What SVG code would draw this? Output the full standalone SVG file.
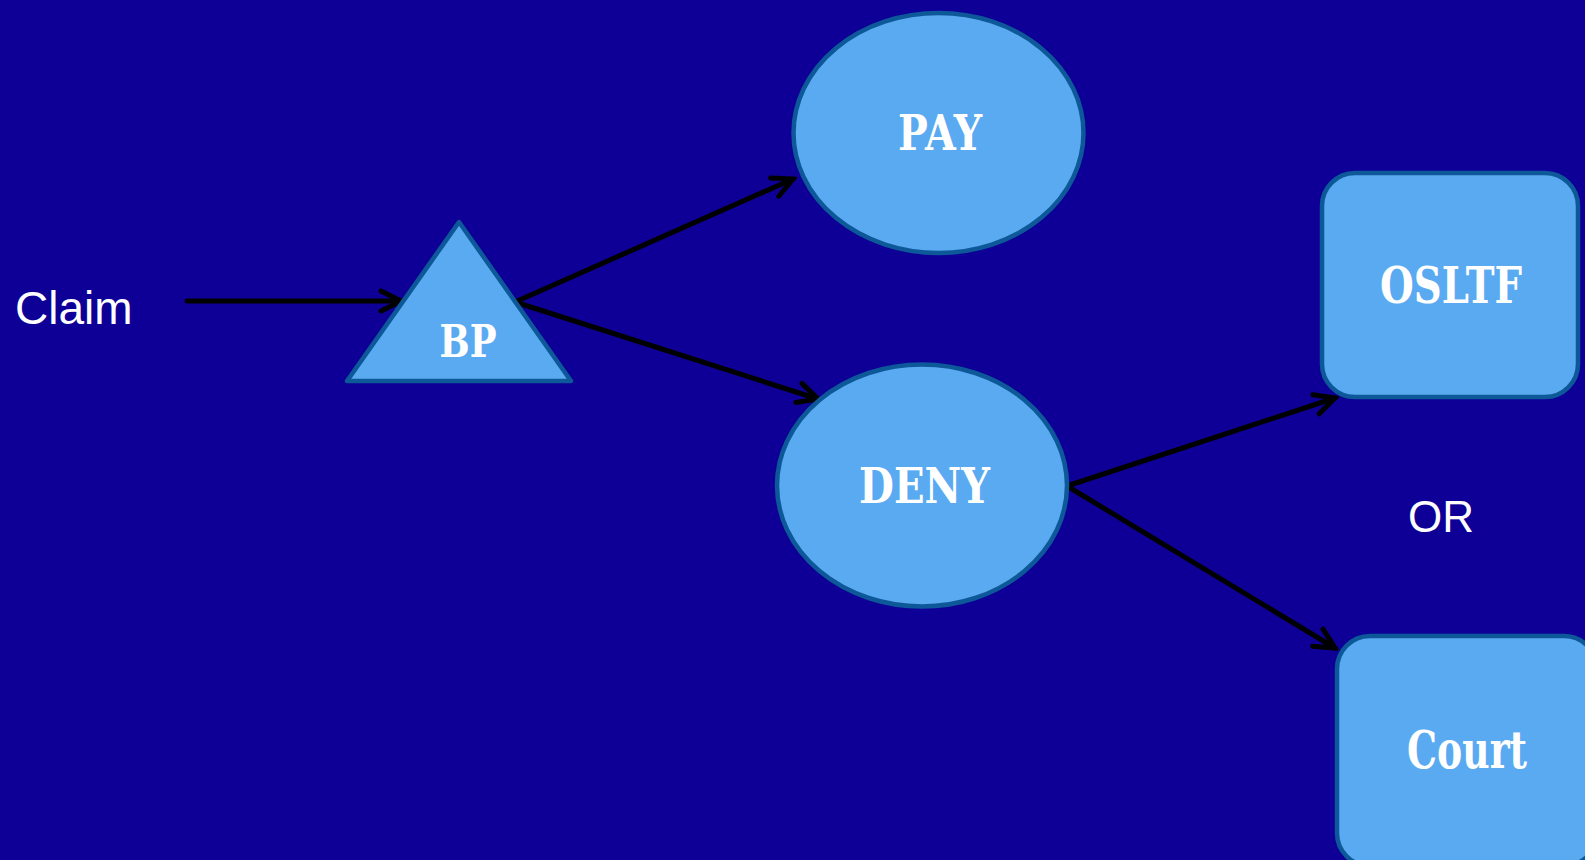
<svg xmlns="http://www.w3.org/2000/svg" width="1585" height="860" viewBox="0 0 1585 860">
  <defs>
    <style>
      .shape { fill: #5aaaf2; stroke: #0d5898; stroke-width: 4.5; }
      .lbl { font-family: "DejaVu Serif", "Liberation Serif", serif; font-weight: bold; fill: #ffffff; text-anchor: middle; }
      .plain { font-family: "Liberation Sans", Arial, sans-serif; fill: #ffffff; }
      .conn { fill: none; stroke: #000000; stroke-width: 5; stroke-linecap: round; marker-end: url(#arrow); }
    </style>
    <marker id="arrow" markerUnits="userSpaceOnUse" viewBox="-24 -13 28 26" refX="0" refY="0" markerWidth="28" markerHeight="26" orient="auto">
      <path d="M-20,-10 L0,0 L-20,10" fill="none" stroke="#000000" stroke-width="5" stroke-linecap="round" stroke-linejoin="miter"/>
    </marker>
  </defs>
  <rect x="0" y="0" width="1585" height="860" fill="#0e0096"/>

  <g id="connectors">
    <line class="conn" x1="187" y1="301" x2="401" y2="301"/>
    <line class="conn" x1="515" y1="302" x2="793" y2="179"/>
    <line class="conn" x1="515" y1="302" x2="818" y2="399"/>
    <line class="conn" x1="1067" y1="486" x2="1335" y2="398"/>
    <line class="conn" x1="1067" y1="486" x2="1335" y2="648"/>
  </g>

  <g id="claim">
    <text class="plain" x="15" y="324" font-size="46">Claim</text>
  </g>

  <g id="bp">
    <polygon class="shape" points="459,222 347,381 571,381" stroke-linejoin="round"/>
    <text class="lbl" x="468" y="357" font-size="45" textLength="57" lengthAdjust="spacingAndGlyphs">BP</text>
  </g>

  <g id="pay">
    <ellipse class="shape" cx="938.5" cy="133" rx="145" ry="120"/>
    <text class="lbl" x="940" y="150" font-size="48" textLength="84" lengthAdjust="spacingAndGlyphs">PAY</text>
  </g>

  <g id="deny">
    <ellipse class="shape" cx="922" cy="485.5" rx="145" ry="121"/>
    <text class="lbl" x="924.5" y="503" font-size="49" textLength="131" lengthAdjust="spacingAndGlyphs">DENY</text>
  </g>

  <g id="osltf">
    <rect class="shape" x="1322" y="173" width="256" height="224" rx="33" ry="33"/>
    <text class="lbl" x="1451" y="303" font-size="50" textLength="142" lengthAdjust="spacingAndGlyphs">OSLTF</text>
  </g>

  <g id="or">
    <text class="plain" x="1441" y="532" font-size="44" text-anchor="middle">OR</text>
  </g>

  <g id="court">
    <rect class="shape" x="1337" y="636" width="260" height="230" rx="33" ry="33"/>
    <text class="lbl" x="1467" y="768" font-size="52" textLength="120" lengthAdjust="spacingAndGlyphs">Court</text>
  </g>
</svg>
